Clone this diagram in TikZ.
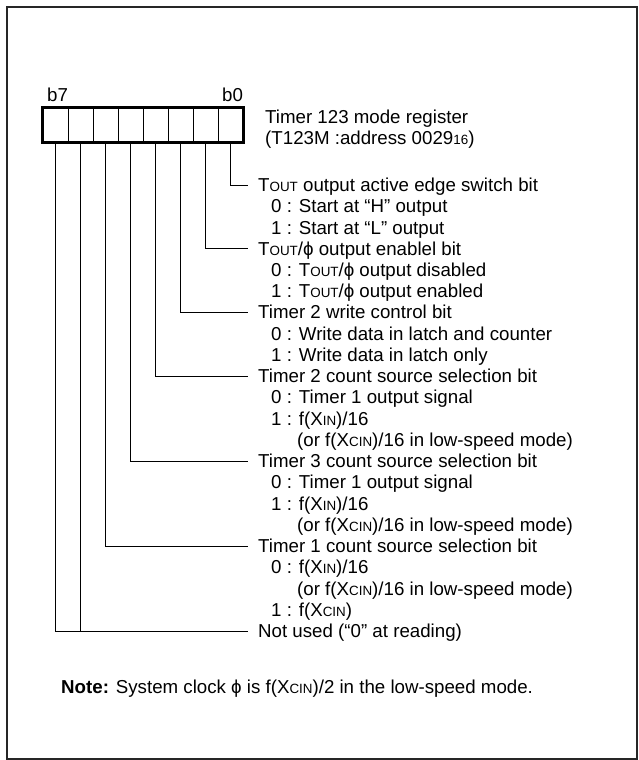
\documentclass[tikz,border=0pt]{standalone}
\usepackage{fontspec}
\setmainfont{Liberation Sans}
\newcommand\sm[1]{{\fontsize{13.4}{13.4}\selectfont #1}}
\tikzset{
txt/.style={anchor=west, inner xsep=0pt, inner ysep=0pt, font=\fontsize{18.7}{21}\selectfont, text height=13pt, text depth=0pt},
head/.style={txt, inner xsep=10pt},
cell/.style={draw, line width=1pt, minimum width=25pt, minimum height=34pt, inner sep=0pt},
lead/.style={line width=1pt}
}
\begin{document}
\begin{tikzpicture}[x=1pt,y=-1pt]
\useasboundingbox (0,0) rectangle (639,760);
\draw[line width=1.6pt, black!85] (7,7) rectangle (637,759);
\node[cell] (r7) at (55.5,125) {};
\node[cell] (r6) at (80.5,125) {};
\node[cell] (r5) at (105.5,125) {};
\node[cell] (r4) at (130.5,125) {};
\node[cell] (r3) at (155.5,125) {};
\node[cell] (r2) at (180.5,125) {};
\node[cell] (r1) at (205.5,125) {};
\node[cell] (r0) at (230.5,125) {};
\draw[line width=2.2pt] (r7.north west) rectangle (r0.south east);
\node[txt] (b7) at (47,95) {b7};
\node[txt] (b0) at (222,95) {b0};
\node[txt] (reg) at (265,117) {Timer 123 mode register};
\node[txt] (adr) at (265,138) {(T123M :address 0029\sm{16})};
\node[head] (t0) at (248,185) {T\sm{OUT} output active edge switch bit};
\node[txt] (t1) at (271,206.2) {0 : Start at “H” output};
\node[txt] (t2) at (271,227.5) {1 : Start at “L” output};
\node[head] (t3) at (248,248.7) {T\sm{OUT}/ϕ output enablel bit};
\node[txt] (t4) at (271,270) {0 : T\sm{OUT}/ϕ output disabled};
\node[txt] (t5) at (271,291.2) {1 : T\sm{OUT}/ϕ output enabled};
\node[head] (t6) at (248,312.4) {Timer 2 write control bit};
\node[txt] (t7) at (271,333.7) {0 : Write data in latch and counter};
\node[txt] (t8) at (271,354.9) {1 : Write data in latch only};
\node[head] (t9) at (248,376.2) {Timer 2 count source selection bit};
\node[txt] (t10) at (271,397.4) {0 : Timer 1 output signal};
\node[txt] (t11) at (271,418.6) {1 : f(X\sm{IN})/16};
\node[txt] (t12) at (297,439.9) {(or f(X\sm{CIN})/16 in low-speed mode)};
\node[head] (t13) at (248,461.1) {Timer 3 count source selection bit};
\node[txt] (t14) at (271,482.4) {0 : Timer 1 output signal};
\node[txt] (t15) at (271,503.6) {1 : f(X\sm{IN})/16};
\node[txt] (t16) at (297,524.8) {(or f(X\sm{CIN})/16 in low-speed mode)};
\node[head] (t17) at (248,546.1) {Timer 1 count source selection bit};
\node[txt] (t18) at (271,567.3) {0 : f(X\sm{IN})/16};
\node[txt] (t19) at (297,588.6) {(or f(X\sm{CIN})/16 in low-speed mode)};
\node[txt] (t20) at (271,609.8) {1 : f(X\sm{CIN})};
\node[head] (t21) at (248,631) {Not used (“0” at reading)};
\node[txt] (note) at (61,687) {\textbf{Note:} System clock ϕ is f(X\sm{CIN})/2 in the low-speed mode.};
\draw[lead] (r0.south) |- (t0.west);
\draw[lead] (r1.south) |- (t3.west);
\draw[lead] (r2.south) |- (t6.west);
\draw[lead] (r3.south) |- (t9.west);
\draw[lead] (r4.south) |- (t13.west);
\draw[lead] (r5.south) |- (t17.west);
\draw[lead] (r7.south) |- (t21.west);
\draw[lead] (r6.south) -- (r6.south |- t21.west);
\end{tikzpicture}
\end{document}
